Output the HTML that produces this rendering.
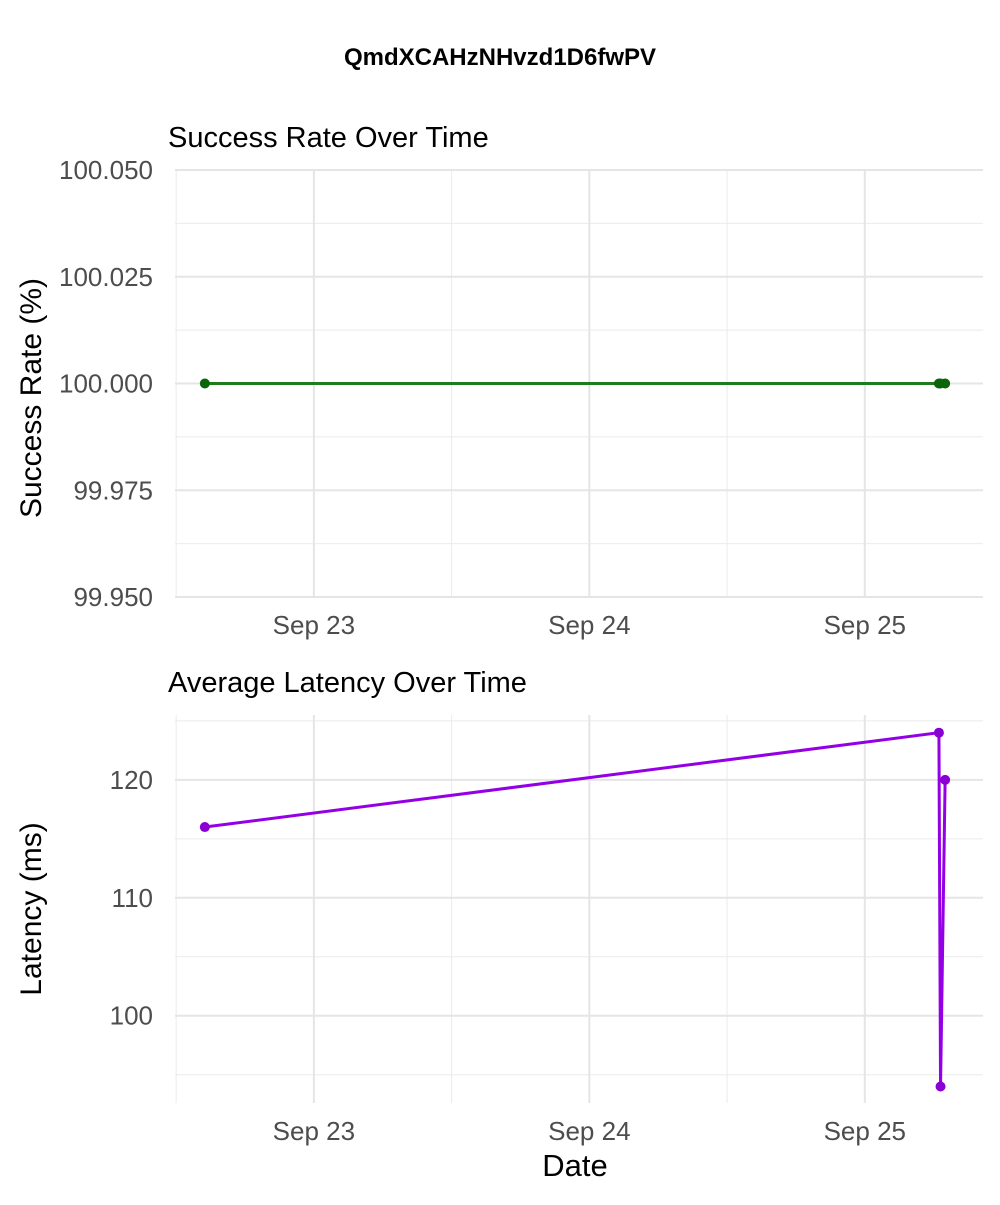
<!DOCTYPE html>
<html><head><meta charset="utf-8"><style>
body{margin:0;background:#fff;}
svg text{font-family:"Liberation Sans",Arial,sans-serif;}
</style></head><body>
<svg id="c" width="1000" height="1200" xmlns="http://www.w3.org/2000/svg">
<text x="500" y="65" text-anchor="middle" font-size="24" font-weight="bold" fill="#000">QmdXCAHzNHvzd1D6fwPV</text>
<text x="168" y="147" font-size="29" fill="#000">Success Rate Over Time</text>
<text x="168" y="692" font-size="29" fill="#000">Average Latency Over Time</text>
<text transform="translate(41,398) rotate(-90)" text-anchor="middle" font-size="30" fill="#000">Success Rate (%)</text>
<text transform="translate(41,909) rotate(-90)" text-anchor="middle" font-size="30" fill="#000">Latency (ms)</text>
<text x="575" y="1176" text-anchor="middle" font-size="31" fill="#000">Date</text>
</svg>
<script>
// hours since Sep 22 00:00
const times = [14.5, 78.46, 78.6, 79.0];
const successValues = [100, 100, 100, 100];
const latencyValues = [116, 124, 94, 120];
const xTickHours = [24, 48, 72];
const xTickLabels = ["Sep 23", "Sep 24", "Sep 25"];
const successTicks = [99.95, 99.975, 100, 100.025, 100.05];
const successTickLabels = ["99.950", "99.975", "100.000", "100.025", "100.050"];
const latencyTicks = [100, 110, 120];
const latencyTickLabels = ["100", "110", "120"];

const svg = document.getElementById('c');
const NS = 'http://www.w3.org/2000/svg';
function mk(tag, attrs, parent){const e=document.createElementNS(NS,tag);for(const k in attrs)e.setAttribute(k,attrs[k]);(parent||svg).appendChild(e);return e;}
const X0=175, X1=983, H0=11.9, H1=82.3;
const xs = h => X0 + (h-H0)/(H1-H0)*(X1-X0);

function panel(name, top, bottom, ymin, ymax, ticks, labels, vals, color, ptColor, minorStep){
  const ys = v => bottom - (v-ymin)/(ymax-ymin)*(bottom-top);
  const g = mk('g', {});
  
  
  for(let v=ticks[0]; v<=ymax+1e-9; v+=minorStep/2){
    const l=mk('line',{x1:X0,x2:X1,y1:ys(v),y2:ys(v),stroke:'#ebebeb','stroke-width':1},g);
    
    
  }
  for(let v=ticks[0]-minorStep/2; v>=ymin-1e-9; v-=minorStep){
    const l=mk('line',{x1:X0,x2:X1,y1:ys(v),y2:ys(v),stroke:'#ebebeb','stroke-width':1},g);
    
    
  }
  [12,36,60].forEach(h=>{
    const l=mk('line',{x1:xs(h),x2:xs(h),y1:top,y2:bottom,stroke:'#ebebeb','stroke-width':1},g);
    
    
  });
  ticks.forEach((v,i)=>{
    const l=mk('line',{x1:X0,x2:X1,y1:ys(v),y2:ys(v),stroke:'#e5e5e5','stroke-width':2},g);
    
    
    const t=mk('text',{x:X0-22,y:ys(v)+9,'text-anchor':'end','font-size':26,fill:'#4d4d4d'},g);
    t.textContent=labels[i];
    
    
  });
  xTickHours.forEach((h,i)=>{
    const l=mk('line',{x1:xs(h),x2:xs(h),y1:top,y2:bottom,stroke:'#e5e5e5','stroke-width':2},g);
    
    
    const t=mk('text',{x:xs(h),y:bottom+37,'text-anchor':'middle','font-size':26,fill:'#4d4d4d'},g);
    t.textContent=xTickLabels[i];
    
    
  });
  const pts = times.map((h,i)=>xs(h)+','+ys(vals[i])).join(' ');
  const pl=mk('polyline',{points:pts,fill:'none',stroke:color,'stroke-width':3},g);
  
  
  times.forEach((h,i)=>{
    const c=mk('circle',{cx:xs(h),cy:ys(vals[i]),r:5,fill:ptColor},g);
    
    
  });
}
panel('success', 170, 597, 99.95, 100.05, successTicks, successTickLabels, successValues, '#1e7b1e', '#0a640a', 0.025);
panel('latency', 715, 1103, 92.6, 125.5, latencyTicks, latencyTickLabels, latencyValues, '#9400e6', '#8a00d4', 10);
</script>
</body></html>
